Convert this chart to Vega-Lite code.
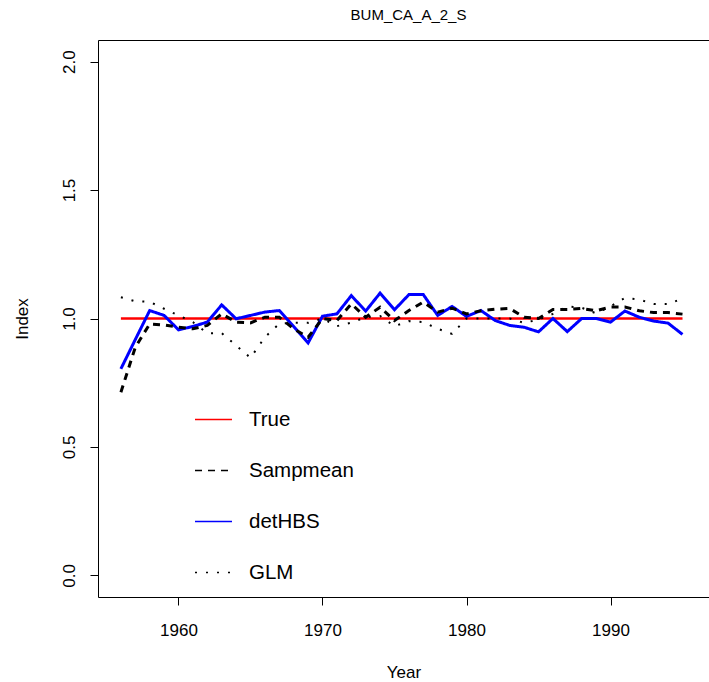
{
  "$schema": "https://vega.github.io/schema/vega-lite/v6.json",
  "width": 611,
  "height": 557,
  "autosize": {"type": "none"},
  "padding": {"left": 98, "top": 40, "right": 0, "bottom": 85},
  "title": {"text": "BUM_CA_A_2_S", "fontSize": 15, "font": "Liberation Sans", "fontWeight": "normal", "color": "#000000", "offset": 17, "dx": 5},
  "config": {"view": {"stroke": null}, "font": "Liberation Sans"},
  "data": {"values": [
    {"year": 1956, "True": 1, "Sampmean": 0.713, "detHBS": 0.804, "GLM": 1.083},
    {"year": 1957, "True": 1, "Sampmean": 0.888, "detHBS": 0.918, "GLM": 1.067},
    {"year": 1958, "True": 1, "Sampmean": 0.979, "detHBS": 1.031, "GLM": 1.065},
    {"year": 1959, "True": 1, "Sampmean": 0.975, "detHBS": 1.012, "GLM": 1.038},
    {"year": 1960, "True": 1, "Sampmean": 0.966, "detHBS": 0.956, "GLM": 1.012},
    {"year": 1961, "True": 1, "Sampmean": 0.960, "detHBS": 0.969, "GLM": 0.986},
    {"year": 1962, "True": 1, "Sampmean": 0.973, "detHBS": 0.986, "GLM": 0.943},
    {"year": 1963, "True": 1, "Sampmean": 1.018, "detHBS": 1.053, "GLM": 0.943},
    {"year": 1964, "True": 1, "Sampmean": 0.986, "detHBS": 0.999, "GLM": 0.895},
    {"year": 1965, "True": 1, "Sampmean": 0.983, "detHBS": 1.012, "GLM": 0.847},
    {"year": 1966, "True": 1, "Sampmean": 1.005, "detHBS": 1.025, "GLM": 0.927},
    {"year": 1967, "True": 1, "Sampmean": 1.005, "detHBS": 1.031, "GLM": 0.980},
    {"year": 1968, "True": 1, "Sampmean": 0.960, "detHBS": 0.969, "GLM": 0.983},
    {"year": 1969, "True": 1, "Sampmean": 0.927, "detHBS": 0.905, "GLM": 0.983},
    {"year": 1970, "True": 1, "Sampmean": 1.000, "detHBS": 1.009, "GLM": 1.000},
    {"year": 1971, "True": 1, "Sampmean": 0.992, "detHBS": 1.018, "GLM": 0.970},
    {"year": 1972, "True": 1, "Sampmean": 1.057, "detHBS": 1.089, "GLM": 0.984},
    {"year": 1973, "True": 1, "Sampmean": 1.005, "detHBS": 1.029, "GLM": 1.005},
    {"year": 1974, "True": 1, "Sampmean": 1.044, "detHBS": 1.099, "GLM": 1.010},
    {"year": 1975, "True": 1, "Sampmean": 0.992, "detHBS": 1.034, "GLM": 0.970},
    {"year": 1976, "True": 1, "Sampmean": 1.031, "detHBS": 1.093, "GLM": 0.990},
    {"year": 1977, "True": 1, "Sampmean": 1.064, "detHBS": 1.093, "GLM": 0.986},
    {"year": 1978, "True": 1, "Sampmean": 1.025, "detHBS": 1.012, "GLM": 0.960},
    {"year": 1979, "True": 1, "Sampmean": 1.040, "detHBS": 1.047, "GLM": 0.940},
    {"year": 1980, "True": 1, "Sampmean": 1.018, "detHBS": 1.008, "GLM": 1.000},
    {"year": 1981, "True": 1, "Sampmean": 1.030, "detHBS": 1.031, "GLM": 1.000},
    {"year": 1982, "True": 1, "Sampmean": 1.036, "detHBS": 0.992, "GLM": 1.000},
    {"year": 1983, "True": 1, "Sampmean": 1.039, "detHBS": 0.973, "GLM": 1.000},
    {"year": 1984, "True": 1, "Sampmean": 1.005, "detHBS": 0.966, "GLM": 0.983},
    {"year": 1985, "True": 1, "Sampmean": 1.000, "detHBS": 0.948, "GLM": 0.996},
    {"year": 1986, "True": 1, "Sampmean": 1.035, "detHBS": 1.000, "GLM": 1.018},
    {"year": 1987, "True": 1, "Sampmean": 1.035, "detHBS": 0.949, "GLM": 1.047},
    {"year": 1988, "True": 1, "Sampmean": 1.039, "detHBS": 1.000, "GLM": 1.042},
    {"year": 1989, "True": 1, "Sampmean": 1.030, "detHBS": 1.000, "GLM": 1.020},
    {"year": 1990, "True": 1, "Sampmean": 1.045, "detHBS": 0.986, "GLM": 1.047},
    {"year": 1991, "True": 1, "Sampmean": 1.045, "detHBS": 1.029, "GLM": 1.080},
    {"year": 1992, "True": 1, "Sampmean": 1.030, "detHBS": 1.005, "GLM": 1.074},
    {"year": 1993, "True": 1, "Sampmean": 1.023, "detHBS": 0.990, "GLM": 1.056},
    {"year": 1994, "True": 1, "Sampmean": 1.023, "detHBS": 0.982, "GLM": 1.056},
    {"year": 1995, "True": 1, "Sampmean": 1.017, "detHBS": 0.938, "GLM": 1.078}
  ]},
  "transform": [{"fold": ["True", "Sampmean", "detHBS", "GLM"], "as": ["series", "value"]}],
  "encoding": {
    "y": {
      "field": "value", "type": "quantitative",
      "scale": {"domain": [-0.084, 2.084], "nice": false, "zero": false},
      "axis": {
        "title": "Index", "values": [0, 0.5, 1, 1.5, 2], "format": ".1f", "grid": false,
        "domain": true, "domainColor": "#000000", "domainWidth": 1,
        "ticks": true, "tickSize": 8, "tickColor": "#000000", "tickWidth": 1,
        "labelAngle": 270, "labelAlign": "center", "labelBaseline": "bottom",
        "labelFontSize": 17, "labelColor": "#000000", "labelPadding": 12, "labelFont": "Liberation Sans",
        "titleFontSize": 17, "titleFontWeight": "normal", "titleColor": "#000000", "titlePadding": 29, "titleFont": "Liberation Sans"
      }
    },
    "color": {
      "field": "series", "type": "nominal",
      "scale": {"domain": ["True", "Sampmean", "detHBS", "GLM"], "range": ["#ff0000", "#000000", "#0000ff", "#000000"]},
      "legend": {
        "title": null, "orient": "none", "legendX": 96, "legendY": 360,
        "symbolType": "stroke", "symbolSize": 1369, "symbolStrokeWidth": 1.3,
        "labelFontSize": 20.5, "labelFont": "Liberation Sans", "labelColor": "#000000",
        "labelOffset": 16, "rowPadding": 21, "padding": 0
      }
    },
    "strokeDash": {
      "field": "series", "type": "nominal",
      "scale": {"domain": ["True", "Sampmean", "detHBS", "GLM"], "range": [[1, 0], [7, 6], [1, 0], [2, 9]]},
      "legend": {
        "title": null, "orient": "none", "legendX": 96, "legendY": 360,
        "symbolType": "stroke", "symbolSize": 1369, "symbolStrokeWidth": 1.3,
        "labelFontSize": 20.5, "labelFont": "Liberation Sans", "labelColor": "#000000",
        "labelOffset": 16, "rowPadding": 21, "padding": 0
      }
    }
  },
  "resolve": {"axis": {"x": "independent"}},
  "layer": [
    {
      "transform": [{"filter": "datum.series === 'True'"}],
      "mark": {"type": "line", "strokeWidth": 2.5},
      "encoding": {
        "x": {
          "field": "year", "type": "quantitative",
          "scale": {"domain": [1954.41, 1996.84], "nice": false, "zero": false},
          "axis": {"orient": "top", "title": null, "labels": false, "ticks": false, "grid": false, "domain": true, "domainColor": "#000000", "domainWidth": 1}
        }
      }
    },
    {
      "encoding": {
        "x": {
          "field": "year", "type": "quantitative",
          "scale": {"domain": [1954.41, 1996.84], "nice": false, "zero": false},
          "axis": {
            "orient": "bottom",
            "title": "Year", "values": [1960, 1970, 1980, 1990], "format": "d", "grid": false,
            "domain": true, "domainColor": "#000000", "domainWidth": 1,
            "ticks": true, "tickSize": 8, "tickColor": "#000000", "tickWidth": 1,
            "labelFontSize": 17, "labelColor": "#000000", "labelPadding": 17, "labelFont": "Liberation Sans",
            "titleFontSize": 17, "titleFontWeight": "normal", "titleColor": "#000000", "titlePadding": 26, "titleFont": "Liberation Sans"
          }
        }
      },
      "layer": [
        {
          "transform": [{"filter": "datum.series === 'detHBS'"}],
          "mark": {"type": "line", "strokeWidth": 3}
        },
        {
          "transform": [{"filter": "datum.series === 'Sampmean'"}],
          "mark": {"type": "line", "strokeWidth": 3}
        },
        {
          "transform": [{"filter": "datum.series === 'GLM'"}],
          "mark": {"type": "line", "strokeWidth": 2}
        }
      ]
    }
  ]
}
